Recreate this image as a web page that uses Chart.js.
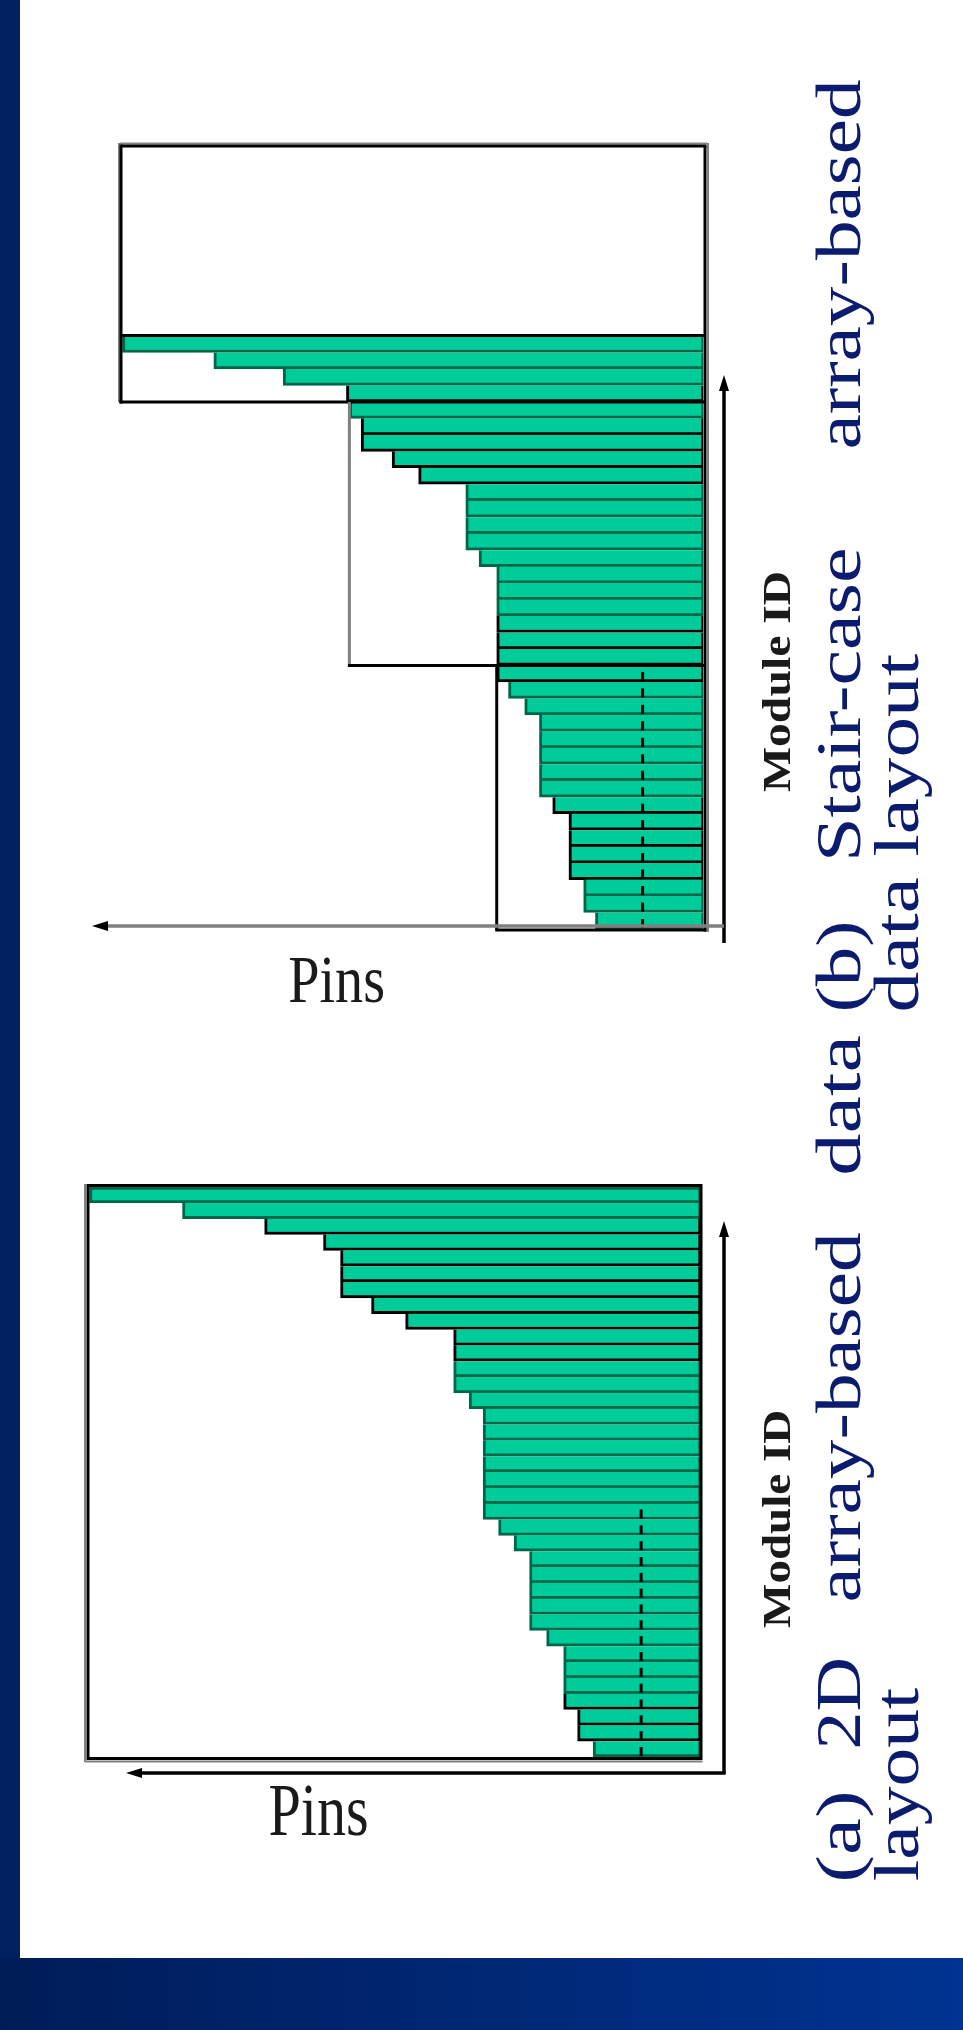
<!DOCTYPE html>
<html>
<head>
<meta charset="utf-8">
<script src="https://cdn.jsdelivr.net/npm/chart.js@4.4.0/dist/chart.umd.min.js"></script>
<style>
html, body { margin: 0; padding: 0; }
body { width: 963px; height: 2030px; background: #fff; position: relative; overflow: hidden; }
#leftBar { position: absolute; left: 0; top: 0; width: 20px; height: 2030px; background: #002060; }
#bottomBar { position: absolute; left: 0; top: 1958px; width: 963px; height: 72px; background: linear-gradient(90deg, #001c58, #003392); }
canvas { position: absolute; left: 0; }
#stair { top: 0; }
#array { top: 1020px; }
</style>
</head>
<body>
<canvas id="stair" width="963" height="1020"></canvas>
<canvas id="array" width="963" height="938"></canvas>
<div id="leftBar"></div>
<div id="bottomBar"></div>
<script>
// module ids, top bar first (ids grow upward along the Module ID arrow)
var moduleIds = ['36', '35', '34', '33', '32', '31', '30', '29', '28', '27', '26', '25',
  '24', '23', '22', '21', '20', '19', '18', '17', '16', '15', '14', '13',
  '12', '11', '10', '9', '8', '7', '6', '5', '4', '3', '2', '1'];

// pins per module (a) 2D array-based layout
var pinsArray = [39.4, 33.4, 28.1, 24.3, 23.2, 23.2, 23.2, 21.2, 19.0,
  15.9, 15.9, 15.9, 15.9, 14.9, 14.0, 14.0, 14.0, 14.0, 14.0, 14.0, 14.0,
  13.0, 12.0, 11.0, 11.0, 11.0, 11.0, 11.0, 9.9, 8.8, 8.8, 8.8, 8.8, 7.9, 7.9, 6.9];

// same modules (b) stair-case layout
var pinsStair = [39.4, 33.2, 28.5, 24.2, 24.0, 23.2, 23.2, 21.1, 19.3,
  16.1, 16.1, 16.1, 16.1, 15.2, 14.0, 14.0, 14.0, 14.0, 14.0, 14.0, 14.0,
  13.2, 12.1, 11.1, 11.1, 11.1, 11.1, 11.1, 10.2, 9.1, 9.1, 9.1, 9.1, 8.1, 8.1, 7.3];

var pinMax = 39.5;
var stairWidths = [39.5, 24, 14];   // width (pins) of each stair column
var stairBreaks = [4, 20];          // stair steps in after these rows
var dashPinsA = 3.8;
var dashPinsB = 4.1;

// rows (1-based) whose outline came out black instead of dark green
var blackRowsA = [3, 4, 5, 6, 7, 8, 9, 10, 11, 33, 34, 35];
var blackRowsB = [4, 6, 7, 8, 9, 18, 19, 20, 21, 29, 30, 31, 32, 33];

// caption pieces: text, line, start y, end y (text runs bottom to top)
var captionB = [['(b)', 0, 1010, 923], ['Stair-case', 0, 857, 550], ['array-based', 0, 447, 80], ['data layout', 1, 1010, 653]];
var captionA = [['(a)', 0, 1880, 1793], ['2D', 0, 1747, 1660], ['array-based', 0, 1600, 1233], ['data', 0, 1173, 1035], ['layout', 1, 1880, 1687]];

var GREEN = '#00cc99';
var DARK = '#00664a';
var GREY = '#808080';
var NAVY = '#0b1b6e';

function label(ctx, text, font, color, x, y, len, up) {
  ctx.save();
  ctx.font = font;
  ctx.fillStyle = color;
  ctx.textBaseline = 'alphabetic';
  var m = ctx.measureText(text);
  var w = m.actualBoundingBoxLeft + m.actualBoundingBoxRight;
  ctx.translate(x, y);
  if (up) ctx.rotate(-Math.PI / 2);
  ctx.scale(len / w, 1);
  ctx.fillText(text, m.actualBoundingBoxLeft, 0);
  ctx.restore();
}

function arrow(ctx, x1, y1, x2, y2, color) {
  var a = Math.atan2(y2 - y1, x2 - x1);
  ctx.save();
  ctx.strokeStyle = color;
  ctx.lineWidth = 3.5;
  ctx.beginPath();
  ctx.moveTo(x1, y1);
  ctx.lineTo(x2 - 10 * Math.cos(a), y2 - 10 * Math.sin(a));
  ctx.stroke();
  ctx.fillStyle = '#000';
  ctx.translate(x2, y2);
  ctx.rotate(a);
  ctx.beginPath();
  ctx.moveTo(0, 0);
  ctx.lineTo(-16, -5);
  ctx.lineTo(-16, 5);
  ctx.closePath();
  ctx.fill();
  ctx.restore();
}

function line(ctx, x1, y1, x2, y2, color, w) {
  ctx.strokeStyle = color;
  ctx.lineWidth = w;
  ctx.beginPath();
  ctx.moveTo(x1, y1);
  ctx.lineTo(x2, y2);
  ctx.stroke();
}

function dashes(ctx, chart, pinsAt) {
  var x = chart.scales.x.getPixelForValue(pinsAt), y = chart.scales.y;
  var pitch = y.getPixelForValue(1) - y.getPixelForValue(0);
  for (var i = stairBreaks[1]; i < moduleIds.length; i++) {
    var yb = y.getPixelForValue(i) + pitch / 2 - 2;
    line(ctx, x, yb - 8, x, yb + 1, '#000', 3);
  }
}

function captions(ctx, list, top) {
  list.forEach(function (c) {
    label(ctx, c[0], '63px "Liberation Serif"', NAVY, c[1] ? 918 : 860, c[2] - top, c[2] - c[3], true);
  });
}

function stairDeco(chart) {
  var ctx = chart.ctx, a = chart.chartArea, x = chart.scales.x, y = chart.scales.y;
  var pitch = y.getPixelForValue(1) - y.getPixelForValue(0);
  var xl = x.getPixelForValue(stairWidths[0]);
  var xm = x.getPixelForValue(stairWidths[1]);
  var xs = x.getPixelForValue(stairWidths[2]);
  var xr = a.right + 2;
  var yTop = a.top - 190;
  var yb1 = a.top + stairBreaks[0] * pitch;
  var yb2 = a.top + stairBreaks[1] * pitch;
  var yBot = a.bottom + 1;
  ctx.save();
  dashes(ctx, chart, dashPinsB);
  // shadows
  line(ctx, xl - 1, yTop - 2.5, xr + 2, yTop - 2.5, GREY, 2);
  line(ctx, xr + 3, yTop - 3, xr + 3, yBot + 2, GREY, 2);
  line(ctx, xl - 2, yTop - 3, xl - 2, yb1, GREY, 2);
  // stair frame
  line(ctx, xl, yTop, xr + 1.5, yTop, '#000', 3);
  line(ctx, xr, yTop, xr, yBot + 1.5, '#000', 3);
  line(ctx, xl, yTop - 1.5, xl, yb1 + 1.5, '#000', 3);
  line(ctx, xl, a.top - 0.5, xr, a.top - 0.5, '#000', 3);
  line(ctx, xl - 1.5, yb1, xr, yb1, '#000', 3);
  line(ctx, xm, yb1, xm, yb2, GREY, 3);
  line(ctx, xm - 1.5, yb2, xr, yb2, '#000', 3);
  line(ctx, xs, yb2, xs, yBot, '#000', 3);
  line(ctx, xs - 1.5, yBot, xr + 1.5, yBot, '#000', 3);
  // axes
  arrow(ctx, a.right + 21, a.bottom + 14, a.right + 21, a.top + 39, '#000');
  arrow(ctx, a.right + 21, a.bottom - 3, a.left - 29, a.bottom - 3, GREY);
  ctx.restore();
  label(ctx, 'Pins', '68px "Liberation Serif"', '#1a1a1a', 289, 1002, 94, false);
  label(ctx, 'Module ID', 'bold 40px "Liberation Serif"', '#1a1a1a', 790, 792, 219, true);
  captions(ctx, captionB, 0);
}

function arrayDeco(chart) {
  var ctx = chart.ctx, a = chart.chartArea, top = 1020;
  ctx.save();
  dashes(ctx, chart, dashPinsA);
  line(ctx, a.left - 3, a.top - 3, a.left - 3, a.bottom + 5, GREY, 2);
  line(ctx, a.left - 3, a.bottom + 4.5, a.right + 2.5, a.bottom + 4.5, GREY, 2);
  ctx.strokeStyle = '#000';
  ctx.lineWidth = 3;
  ctx.strokeRect(a.left, a.top - 1.5, a.right + 1 - a.left, a.bottom + 3 - a.top);
  arrow(ctx, a.right + 24, a.bottom + 17, a.right + 24, a.top + 34, '#000');
  arrow(ctx, a.right + 25.5, a.bottom + 16, a.left + 38, a.bottom + 16, '#000');
  ctx.restore();
  label(ctx, 'Pins', '75px "Liberation Serif"', '#1a1a1a', 270, 1835 - top, 97, false);
  label(ctx, 'Module ID', 'bold 40px "Liberation Serif"', '#1a1a1a', 790, 1628 - top, 216, true);
  captions(ctx, captionA, top);
}

function panel(id, pins, blackRows, pad, deco, topBorder) {
  var outline = pins.map(function (v, i) {
    return blackRows.indexOf(i + 1) >= 0 ? '#000' : DARK;
  });
  return new Chart(document.getElementById(id), {
    type: 'bar',
    data: {
      labels: moduleIds,
      datasets: [{
        label: 'Pins',
        data: pins,
        backgroundColor: GREEN,
        borderColor: outline,
        borderWidth: function (c) {
          return { top: (topBorder && c.dataIndex === 0) ? 3 : 0, right: 2, bottom: 3, left: 3 };
        },
        borderSkipped: false,
        categoryPercentage: 1,
        barPercentage: 1
      }]
    },
    options: {
      indexAxis: 'y',
      responsive: false,
      animation: false,
      devicePixelRatio: 1,
      layout: { padding: pad },
      scales: {
        x: { type: 'linear', reverse: true, min: 0, max: pinMax, display: false },
        y: { display: false }
      },
      plugins: { legend: { display: false }, tooltip: { enabled: false } }
    },
    plugins: [{ id: 'deco', afterDatasetsDraw: deco }]
  });
}

panel('stair', pinsStair, blackRowsB, { left: 121, right: 260, top: 336, bottom: 91 }, stairDeco, false);
panel('array', pinsArray, blackRowsA, { left: 88, right: 263, top: 167, bottom: 201 }, arrayDeco, true);
</script>
</body>
</html>
